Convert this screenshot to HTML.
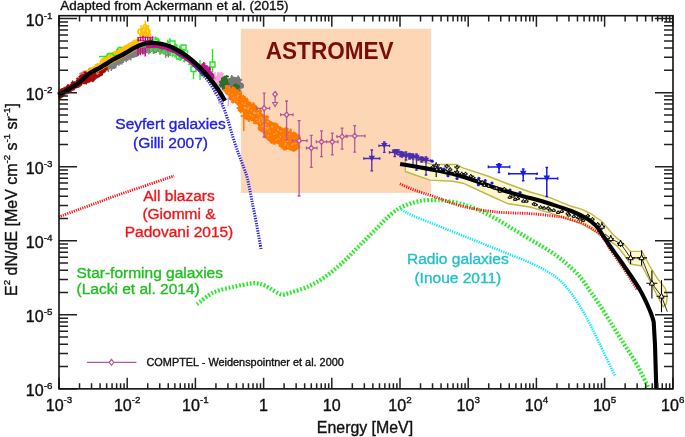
<!DOCTYPE html>
<html><head><meta charset="utf-8"><style>
html,body{margin:0;padding:0;background:#fff;}
svg{display:block;will-change:transform;}
text{font-family:"Liberation Sans",sans-serif;stroke-width:0.35px;}
.t{font-size:16.1px;fill:#111;stroke:#111;}
.s{font-size:9.8px;}
.c{fill:#111;stroke:#111;}
.lbl{font-size:15.5px;}
</style></head><body>
<svg width="685" height="437" viewBox="0 0 685 437">
<defs><clipPath id="cp"><rect x="59.0" y="15.7" width="614.0" height="373.15000000000003"/></clipPath></defs>
<rect x="240.8" y="28.8" width="190.3" height="164.1" fill="#fdd7b5"/>
<path d="M100.0 71.4L102.0 70.2L104.0 69.0L106.0 67.8L108.0 66.5L110.0 65.3L112.0 64.0L114.0 63.0L116.0 61.9L118.0 60.8L120.0 59.8L122.0 58.7L124.0 57.6L126.0 56.5L128.0 55.4L130.0 54.3L132.0 53.1L134.0 52.0L136.0 50.9L138.0 50.1L140.0 49.3L142.0 48.6L144.0 47.8L146.0 47.0L148.0 47.0L150.0 47.0L152.0 46.9L154.0 46.9L156.0 46.9L158.0 47.3L160.0 47.7L162.0 48.0L164.0 48.4L166.0 48.8L168.0 49.7L170.0 50.5" stroke="#85857c" stroke-width="3.2" fill="none"/>
<path d="M100.6 70.2L99.2 76.2M102.1 68.4L100.7 76.1M103.6 67.8L102.2 75.3M105.1 68.2L103.7 73.3M106.6 67.4L105.2 72.3M108.1 66.4L106.7 70.9M109.6 64.4L108.2 72.0M111.1 64.3L109.7 69.3M112.6 61.9L111.2 70.9M114.1 61.3L112.7 69.1M115.6 59.4L114.2 68.9M117.1 58.9L115.7 68.2M118.6 60.1L117.2 65.1M120.1 58.9L118.7 65.9M121.6 58.4L120.2 64.3M123.1 56.3L121.7 64.5M124.6 55.8L123.2 62.9M126.1 56.3L124.7 61.0M127.6 53.7L126.2 62.2M129.1 53.9L127.7 60.6M130.6 52.7L129.2 59.7M132.1 50.9L130.7 60.4M133.6 51.6L132.2 57.8M135.1 50.0L133.7 58.2M136.6 48.6L135.2 57.1M138.1 47.3L136.7 56.9M139.6 48.3L138.2 55.7M141.1 48.4L139.7 54.0M142.6 48.2L141.2 53.4M144.1 45.5L142.7 54.7M145.6 44.6L144.2 54.0M147.1 44.7L145.7 53.5M148.6 45.1L147.2 53.0M150.1 44.3L148.7 54.4M151.6 45.3L150.2 53.0M153.1 46.5L151.7 51.9M154.6 44.8L153.2 53.9M156.1 44.3L154.7 53.3M157.6 45.7L156.2 52.9M159.1 47.0L157.7 51.8M160.6 46.9L159.2 52.0M162.1 47.5L160.7 53.0M163.6 47.6L162.2 52.7M165.1 47.1L163.7 54.6M166.6 48.3L165.2 53.4M168.1 47.6L166.7 56.0M169.6 47.5L168.2 57.4M171.1 49.7L169.7 55.8" stroke="#80807a" stroke-width="1.5" fill="none"/>
<path d="M165.6 50V58M160 49V55" stroke="#888" stroke-width="1.4"/>
<path d="M59.0 95.2L61.0 93.9L63.0 92.6L65.0 91.4L67.0 90.2L69.0 89.0L71.0 87.8L73.0 86.6L75.0 85.4L77.0 84.0L79.0 82.5L81.0 80.9L83.0 79.2L85.0 77.4L87.0 75.6L89.0 73.9L91.0 72.4L93.0 71.3L95.0 70.2L97.0 69.2L99.0 68.1" stroke="#a00808" stroke-width="7" stroke-opacity="0.7" fill="none"/>
<path d="M79 73.5L84 70.5L88 70.5L87 76L81 78Z" fill="#a80808" fill-opacity="0.55"/>
<path d="M86 76L92 72L100 69L106 67.5L104 73L98 78L92 82L88 81Z" fill="#a80808" fill-opacity="0.5"/>
<path d="M66.0 92.2H69.9M68.0 91.2V93.2M62.3 89.7H64.5M63.4 88.4V91.1M72.9 83.8H74.5M73.7 82.5V85.1M66.3 89.5H70.2M68.2 87.9V91.1M70.3 87.7H73.5M71.9 86.8V88.6M79.6 82.2H83.3M81.5 80.5V84.0M67.9 87.8H69.7M68.8 86.2V89.4M59.5 90.2H61.6M60.6 89.2V91.2M66.7 85.8H68.3M67.5 84.8V86.8M60.7 92.0H62.4M61.5 90.1V93.8M73.2 82.5H75.5M74.4 81.3V83.7M66.3 86.0H69.9M68.1 84.0V88.0M69.7 87.4H71.6M70.6 86.5V88.3M65.8 87.5H69.4M67.6 86.5V88.5M58.1 97.9H61.0M59.6 96.9V98.9M71.1 82.6H74.0M72.6 80.6V84.5M79.5 82.4H81.7M80.6 81.1V83.6M61.7 94.2H64.6M63.2 92.5V95.9M65.5 87.3H69.0M67.2 85.4V89.3M78.5 83.5H82.1M80.3 81.8V85.2M63.4 91.2H65.9M64.7 90.4V92.1M58.6 92.5H60.8M59.7 90.8V94.1M81.0 78.3H84.8M82.9 76.3V80.3M81.8 77.7H83.9M82.9 76.6V78.8M62.4 89.2H65.5M63.9 87.3V91.1M78.4 81.1H81.6M80.0 79.4V82.9M59.2 94.6H63.0M61.1 92.9V96.4M76.7 82.8H78.8M77.8 81.1V84.6M65.3 91.9H69.3M67.3 90.6V93.2M67.4 92.1H70.7M69.0 91.0V93.1M60.3 89.9H64.1M62.2 88.1V91.6M60.7 95.0H64.6M62.7 93.4V96.6M66.8 89.6H68.7M67.8 88.8V90.5M81.8 79.6H84.7M83.3 77.7V81.5M68.1 91.0H71.6M69.8 89.9V92.0M64.2 89.1H66.4M65.3 87.6V90.6M64.5 90.0H66.4M65.5 88.1V91.9M66.3 88.9H69.3M67.8 87.0V90.7M68.1 91.5H70.9M69.5 90.1V93.0M70.8 82.8H73.4M72.1 81.8V83.8M58.1 97.0H60.1M59.1 95.6V98.4M75.9 83.9H78.3M77.1 82.5V85.3M72.0 88.4H73.8M72.9 87.0V89.9M63.5 89.0H66.9M65.2 87.6V90.4M71.1 88.2H74.9M73.0 86.8V89.5M72.9 85.4H75.7M74.3 83.7V87.0M68.9 88.0H71.7M70.3 86.1V89.9M74.5 87.0H78.4M76.5 85.8V88.1M71.2 89.7H74.8M73.0 88.7V90.6M61.2 92.3H62.9M62.0 91.2V93.4M59.1 94.9H62.6M60.8 93.0V96.8M61.3 94.0H64.5M62.9 93.0V94.9M80.0 84.1H82.1M81.1 82.2V86.0M67.0 88.4H70.9M69.0 86.6V90.2M61.6 91.6H64.5M63.0 90.4V92.8M62.2 90.1H65.6M63.9 89.3V90.9M72.0 85.7H73.7M72.9 84.5V86.9M73.7 85.2H75.5M74.6 83.3V87.2M77.8 86.0H79.6M78.7 84.9V87.2M58.9 96.3H61.1M60.0 95.3V97.2M67.8 91.5H71.3M69.6 90.3V92.6M61.2 95.7H64.2M62.7 94.0V97.3M59.6 89.7H62.9M61.2 88.4V91.0M59.2 97.0H62.4M60.8 95.3V98.8M60.2 96.2H62.0M61.1 94.4V98.0M68.9 86.4H71.8M70.3 84.5V88.3M64.3 87.5H67.1M65.7 86.4V88.6M60.9 90.2H62.6M61.7 89.2V91.3M65.1 88.3H68.5M66.8 87.1V89.4M70.3 84.4H72.7M71.5 83.6V85.2" stroke="#a80808" stroke-width="1.3" fill="none"/>
<path d="M78.4 76.7H82.1M80.3 75.1V78.4M77.3 81.5H81.6M79.5 80.3V82.6M86.1 74.0H89.2M87.6 72.0V76.0M80.3 79.5H83.9M82.1 77.3V81.7M79.6 83.0H83.3M81.5 81.2V84.8M81.2 77.9H83.3M82.3 76.8V79.1M76.6 85.0H79.2M77.9 83.8V86.2M76.1 85.8H80.1M78.1 84.0V87.6M79.3 78.4H82.0M80.7 76.8V79.9M77.7 81.5H80.4M79.0 79.4V83.7M88.4 73.2H90.9M89.6 71.1V75.4M80.0 79.1H82.0M81.0 77.7V80.6M81.9 78.5H84.4M83.2 76.9V80.1M76.0 81.4H78.2M77.1 79.9V82.9M76.2 78.8H78.9M77.5 77.6V80.1M82.7 77.5H86.5M84.6 75.7V79.3M84.8 79.2H87.8M86.3 77.8V80.6M87.9 69.5H91.7M89.8 67.7V71.3M75.5 86.1H79.6M77.6 84.4V87.9M85.4 78.4H87.7M86.5 76.7V80.0M81.6 81.2H85.5M83.6 79.2V83.2M82.8 80.8H86.4M84.6 79.0V82.6M78.8 77.1H81.1M80.0 75.7V78.5M76.7 85.5H80.0M78.4 83.8V87.3M83.6 78.4H86.7M85.1 77.4V79.4M85.8 77.0H89.0M87.4 75.4V78.7M83.7 72.5H87.5M85.6 71.2V73.8M76.1 80.7H79.8M78.0 79.5V82.0M85.0 79.8H88.2M86.6 78.3V81.2M81.3 80.1H85.1M83.2 78.4V81.9M84.2 72.8H86.5M85.4 71.5V74.1M85.0 73.7H88.3M86.7 72.7V74.7M76.0 80.9H79.6M77.8 79.0V82.7M84.2 74.3H87.4M85.8 72.8V75.9M81.0 75.2H85.1M83.1 73.9V76.4M88.7 76.7H90.7M89.7 75.1V78.2M86.1 78.8H89.2M87.7 77.5V80.1M78.5 85.5H81.0M79.7 83.8V87.2M76.7 82.4H81.0M78.8 81.2V83.5M85.6 74.6H89.7M87.7 72.8V76.5" stroke="#a80808" stroke-width="1.5" fill="none"/>
<path d="M87.7 80.9H90.9M89.3 79.8V81.9M82.5 81.4H85.6M84.1 80.1V82.8M85.9 78.0H88.6M87.2 76.0V80.0M82.0 83.1H86.0M84.0 82.0V84.3M103.2 68.8H107.4M105.3 67.4V70.1M90.4 75.1H94.8M92.6 73.4V76.8M91.0 75.6H93.6M92.3 74.5V76.6M85.0 82.2H87.7M86.3 80.1V84.4M88.1 75.4H91.3M89.7 74.2V76.6M90.5 80.2H94.6M92.6 78.3V82.2M96.4 75.8H100.6M98.5 74.2V77.5M98.7 67.6H102.4M100.6 66.1V69.2M100.0 71.5H102.7M101.3 70.5V72.6M103.7 65.2H106.9M105.3 63.8V66.6M88.7 78.8H93.0M90.8 77.5V80.2M97.4 70.5H100.8M99.1 69.0V71.9M86.6 76.1H89.1M87.8 74.0V78.2M93.3 72.0H97.5M95.4 69.8V74.2M93.1 71.9H95.6M94.3 70.8V73.0M90.6 72.8H93.2M91.9 71.5V74.1M95.2 76.7H99.0M97.1 75.2V78.2M92.1 75.9H95.0M93.5 74.5V77.3M83.3 78.9H87.6M85.4 77.8V80.1M93.5 75.6H97.6M95.6 74.3V76.8M88.8 74.9H91.7M90.2 73.4V76.5M103.9 69.1H108.0M105.9 68.0V70.1M82.7 82.4H86.8M84.7 80.8V84.0M96.0 68.9H99.0M97.5 66.8V71.0M100.8 71.6H105.2M103.0 70.3V72.9M84.9 77.2H88.1M86.5 75.4V79.0M103.9 68.5H107.4M105.7 66.6V70.5M93.5 75.6H95.6M94.5 73.7V77.6M87.6 81.0H91.1M89.3 79.7V82.4M85.2 77.5H88.7M86.9 75.7V79.4M84.9 76.5H88.2M86.6 74.8V78.2M91.2 73.4H94.6M92.9 72.4V74.4M88.8 76.4H93.1M90.9 74.7V78.2M103.0 68.0H105.6M104.3 66.8V69.3M104.7 68.1H107.5M106.1 67.1V69.1M94.0 76.1H97.0M95.5 74.8V77.4M98.1 75.2H100.6M99.3 74.2V76.3M90.0 75.7H93.6M91.8 74.5V77.0M100.7 71.4H103.9M102.3 70.1V72.6M104.3 65.6H108.3M106.3 64.3V66.9M87.7 79.9H90.4M89.1 77.8V82.0M94.1 71.7H96.7M95.4 70.2V73.2M98.1 75.5H100.5M99.3 74.0V76.9M87.7 81.7H90.1M88.9 80.7V82.8M83.3 79.8H87.5M85.4 77.7V81.8M98.7 74.5H103.0M100.9 73.1V75.9M86.4 81.8H90.2M88.3 80.8V82.8M97.8 71.0H100.7M99.3 69.6V72.4M86.6 74.9H89.2M87.9 73.5V76.3M103.8 64.7H108.1M106.0 63.5V66.0M90.2 79.1H94.2M92.2 77.6V80.6M83.7 80.5H86.6M85.1 78.4V82.6M86.4 77.2H90.5M88.4 76.2V78.3M91.5 78.6H95.4M93.4 77.6V79.7M82.7 78.0H86.9M84.8 76.7V79.3M99.8 73.5H102.6M101.2 72.2V74.8M104.7 67.6H107.3M106.0 65.8V69.5M90.3 74.7H92.3M91.3 72.8V76.6M102.9 68.5H107.2M105.1 67.4V69.5M87.2 77.4H91.5M89.4 75.3V79.5M91.4 73.7H94.4M92.9 72.1V75.3M103.4 65.5H107.3M105.3 63.6V67.4M101.2 71.1H104.7M102.9 69.7V72.5M89.4 75.4H93.3M91.3 74.3V76.5M87.2 80.2H89.8M88.5 79.1V81.3M83.4 81.3H86.2M84.8 79.1V83.5M103.0 71.3H105.6M104.3 70.2V72.4M84.4 79.9H88.1M86.2 78.4V81.4M87.6 76.9H91.1M89.4 75.1V78.7M99.4 73.1H103.0M101.2 71.9V74.2M101.7 67.6H105.0M103.3 66.1V69.0M99.7 68.5H102.3M101.0 67.2V69.8M85.8 81.9H89.2M87.5 80.5V83.3M91.5 80.4H94.7M93.1 79.1V81.7M100.4 70.6H104.8M102.6 69.4V71.7M92.9 77.8H96.9M94.9 75.7V79.9" stroke="#a80808" stroke-width="1.5" fill="none"/>
<path d="M87.0 72.2L88.0 71.4L89.0 70.5L90.0 69.6L91.0 69.0L92.0 68.5L93.0 67.9L94.0 67.4L95.0 66.8L96.0 66.3L97.0 65.8L98.0 65.2L99.0 64.7L100.0 64.2L101.0 63.6L102.0 63.0L103.0 62.4L104.0 61.8L105.0 61.2" stroke="#ffc200" stroke-width="2.6" fill="none"/>
<path d="M103.0 60.8L105.0 59.6L107.0 58.4L109.0 57.1L111.0 55.8L113.0 54.7L115.0 53.6L117.0 52.6L119.0 51.5L121.0 50.5L123.0 49.4L125.0 48.2L127.0 47.1L129.0 46.0L131.0 44.9L133.0 43.8L135.0 42.7L137.0 41.7" stroke="#ffc200" stroke-width="5.2" fill="none" stroke-linecap="round"/>
<path d="M96.2 64.1H99.3M97.8 63.1V65.2M107.5 55.5H110.3M108.9 53.9V57.0M100.2 61.8H102.3M101.2 60.6V62.9M102.9 60.1H105.8M104.3 58.8V61.4M136.9 39.9H140.8M138.8 38.6V41.2M120.3 49.8H123.0M121.7 48.4V51.2M134.9 42.3H138.9M136.9 41.0V43.7M110.7 53.6H114.1M112.4 52.4V54.8M132.2 41.2H136.0M134.1 39.8V42.6M114.4 53.7H117.2M115.8 51.8V55.6M106.3 57.5H108.6M107.4 56.5V58.5M128.6 45.0H131.9M130.2 43.1V46.9M136.0 39.7H139.2M137.6 38.4V41.1M99.5 61.7H101.8M100.7 60.4V63.0M120.3 49.3H124.2M122.2 48.2V50.4M121.5 48.7H125.1M123.3 46.7V50.6M104.4 57.8H106.7M105.6 55.9V59.8M110.7 56.0H113.7M112.2 55.0V57.1M100.8 62.0H103.6M102.2 60.1V64.0M103.2 59.5H106.8M105.0 58.3V60.6M106.0 58.6H108.4M107.2 57.2V60.0M120.5 50.2H124.2M122.4 49.1V51.4M123.3 47.1H126.1M124.7 45.6V48.6M103.8 58.8H106.1M105.0 57.5V60.0M94.6 64.6H98.4M96.5 63.6V65.6M108.6 55.9H112.2M110.4 54.9V56.9M124.7 48.3H127.0M125.8 46.7V49.9M102.5 59.8H105.8M104.1 58.5V61.1M108.2 55.9H111.3M109.7 54.5V57.3M103.5 59.6H106.4M104.9 58.2V61.0" stroke="#ffc200" stroke-width="1.4" fill="none"/>
<path d="M96.0 72.6L98.0 71.5L100.0 70.5L102.0 69.3L104.0 68.1L106.0 66.9L108.0 65.6L110.0 64.4L112.0 63.1L114.0 62.1L116.0 61.0L118.0 59.9L120.0 58.9L122.0 57.8L124.0 56.7L126.0 55.6L128.0 54.5L130.0 53.4L132.0 52.2L134.0 51.1L136.0 50.0L138.0 49.2L140.0 48.4" stroke="#e0a818" stroke-width="1" fill="none"/>
<circle cx="140.5" cy="31.5" r="2.4" fill="none" stroke="#ffc200" stroke-width="1.8"/><circle cx="144" cy="30.5" r="2.6" fill="none" stroke="#ffc200" stroke-width="1.8"/><circle cx="147.5" cy="31.5" r="2.4" fill="none" stroke="#ffc200" stroke-width="1.8"/><circle cx="145.2" cy="26.8" r="2.0" fill="none" stroke="#ffc200" stroke-width="1.8"/><circle cx="142" cy="35" r="2.0" fill="none" stroke="#ffc200" stroke-width="1.8"/><circle cx="148.5" cy="35" r="1.8" fill="none" stroke="#ffc200" stroke-width="1.8"/><circle cx="144.8" cy="34.5" r="2.0" fill="none" stroke="#ffc200" stroke-width="1.8"/>
<path d="M145.3 20.5V37M141 25V37M148.5 25V37" stroke="#ffc200" stroke-width="1.4"/>
<path d="M99 56.5H106L108 53.5H112L114 55.5H118M116.5 50.5L118.5 47.5H122M170.0 41.0h5v5h-5zM181.0 45.0h5v5h-5zM191.0 66.5h5v5h-5zM210.0 62.0h5v5h-5zM200.5 70.5h5v5h-5zM176.5 54.0h5v5h-5zM159.5 48.0h5v5h-5zM212.5 49V62M212.5 67V72M193.5 60V66.5M193.5 71.5V79M200 60V80M170 38V56M158 47h8M176 53h7" stroke="#22e822" stroke-width="1.4" fill="none"/>
<path d="M149.9 39.2H152.0M150.9 37.6V40.7M179.9 56.5H182.5M181.2 55.6V57.4M153.9 46.6H156.4M155.1 45.3V47.9M150.1 40.0H153.2M151.6 38.4V41.6M169.3 52.4H171.6M170.5 50.7V54.2M153.9 38.1H157.0M155.4 36.5V39.7M156.0 39.4H159.5M157.7 37.7V41.2M155.7 38.4H157.5M156.6 37.2V39.5M179.2 59.5H181.3M180.2 57.9V61.1M154.7 50.7H156.8M155.7 49.6V51.8M169.3 50.0H171.2M170.2 49.0V51.0M186.5 51.9H188.4M187.5 50.3V53.4M153.4 49.3H155.8M154.6 47.6V51.0M171.3 55.1H173.1M172.2 53.3V56.9M174.1 55.9H176.3M175.2 54.2V57.7M171.9 54.9H174.3M173.1 53.9V55.9M178.7 58.8H180.8M179.7 57.4V60.2M188.2 64.5H190.5M189.4 63.7V65.3M150.1 49.2H152.6M151.4 47.9V50.5M184.4 59.7H187.3M185.8 58.9V60.6M148.9 46.7H151.3M150.1 45.7V47.7M171.9 52.2H174.8M173.3 50.9V53.5M154.4 39.6H156.3M155.4 38.7V40.5M174.3 44.5H176.7M175.5 43.5V45.6M149.3 39.0H151.6M150.5 37.6V40.5M166.7 41.3H168.8M167.8 39.6V43.0M150.7 48.2H152.8M151.8 47.3V49.0M179.4 58.4H182.9M181.2 57.4V59.3M156.5 39.5H159.4M158.0 37.8V41.1M156.1 47.8H157.8M157.0 46.1V49.5M179.7 49.7H183.0M181.3 48.2V51.2M167.6 42.2H169.6M168.6 41.3V43.1M157.7 48.4H160.8M159.3 46.9V49.9M182.5 50.8H185.2M183.8 49.5V52.0M180.1 57.2H183.0M181.5 55.4V58.9M157.6 40.6H159.7M158.7 39.5V41.6M178.6 47.2H180.9M179.8 45.5V48.9M161.7 52.0H164.6M163.1 50.5V53.5M175.0 45.8H178.2M176.6 44.3V47.2M182.9 61.2H185.7M184.3 60.1V62.4M156.8 40.4H160.2M158.5 39.5V41.4M149.9 50.8H152.2M151.1 49.9V51.7M149.7 49.6H152.6M151.1 48.1V51.1M178.3 57.5H180.6M179.5 55.9V59.1M181.1 50.5H184.5M182.8 48.8V52.2M186.9 60.9H188.7M187.8 60.0V61.7M182.3 50.1H185.5M183.9 48.7V51.5M159.9 47.6H163.1M161.5 46.6V48.6M161.7 47.5H163.8M162.8 46.4V48.6M176.9 55.6H180.4M178.6 54.3V56.9" stroke="#28ec28" stroke-width="1.3" fill="none"/>
<path d="M138.2 37.0V41.5M140.6 36.7V41.5M143 35.8V41.5M145.4 36.4V41.5M147.8 36.4V41.5M150.2 36.9V40.8M152.6 36.3V40.8M138 48V55.8M140.4 48V55.2M142.8 48V53.9M145.2 48V56.4" stroke="#d00890" stroke-width="1.5" fill="none"/>
<path d="M137.5 37.5h16M137.5 40.5h15" stroke="#d00890" stroke-width="0.8" fill="none"/>
<path d="M146.0 46.6L148.0 46.6L150.0 46.6L152.0 46.5L154.0 46.5L156.0 46.5L158.0 46.9L160.0 47.3L162.0 47.6L164.0 48.0L166.0 48.4L168.0 49.3L170.0 50.1L172.0 51.0L174.0 51.8L176.0 52.7L178.0 54.0L180.0 55.3L182.0 56.5L184.0 57.8L186.0 59.1L188.0 60.4L190.0 62.1L192.0 63.9L194.0 65.6L196.0 67.4L198.0 69.1L200.0 71.1L202.0 73.3L204.0 75.4" stroke="#c0148e" stroke-width="3" fill="none"/>
<path d="M203.0 64.0L208.0 68.0L214.0 74.0L216.0 78.0L212.0 79.0L206.0 74.0L201.0 67.0Z" fill="#c0148e"/><path d="M204.0 66.2H208.2M206.1 64.9V67.6M202.9 70.1H205.4M204.2 68.2V72.0M206.9 68.1H210.5M208.7 67.0V69.2M201.5 64.4H205.5M203.5 62.5V66.2M207.9 69.5H211.0M209.5 67.4V71.7M203.2 73.1H205.3M204.3 71.8V74.4M200.4 65.4H203.7M202.1 64.0V66.9M202.2 63.7H205.4M203.8 62.0V65.4M212.6 78.9H216.3M214.5 77.4V80.3M211.7 77.9H215.9M213.8 76.1V79.8M202.9 70.7H206.0M204.4 68.7V72.7M207.7 68.5H210.9M209.3 66.4V70.7" stroke="#c0148e" stroke-width="1.5" fill="none"/>
<path d="M215 72V95M219 74V104M222 80V108M228.3 83.7V105.7M213 80h4M217 88h4M220 95h4M225 99h6" stroke="#f2a6d2" stroke-width="1.4" fill="none"/>
<path d="M217.0 72.0L222.0 73.0L223.0 82.0L219.0 88.0L216.0 84.0Z" fill="#f2a6d2"/><path d="M221.0 77.1H223.4M222.2 75.6V78.5M219.8 76.0H223.7M221.8 74.9V77.1M222.0 78.8H225.0M223.5 76.5V81.1M215.0 83.7H218.1M216.5 82.5V85.0M215.5 77.4H218.0M216.7 75.8V78.9M219.3 73.7H223.4M221.3 71.8V75.6M220.5 74.1H223.7M222.1 72.9V75.3M220.7 77.2H224.6M222.7 75.1V79.4" stroke="#f2a6d2" stroke-width="1.5" fill="none"/>
<path d="M228.0 78.5L233.0 76.5L238.0 77.5L241.0 82.0L242.0 88.0L239.0 91.0L234.0 90.0L230.0 86.0L228.0 83.0Z" fill="#777777"/><path d="M240.5 84.9H244.0M242.3 83.0V86.9M236.9 90.7H241.2M239.1 89.7V91.8M230.4 87.7H234.3M232.3 85.6V89.9M239.8 84.4H243.2M241.5 82.8V86.1M236.4 77.5H239.9M238.2 75.5V79.5M231.0 89.0H235.3M233.2 87.7V90.2M226.9 83.6H230.7M228.8 82.4V84.7M231.2 87.2H233.3M232.2 85.9V88.6M232.2 89.1H235.2M233.7 87.5V90.6M228.2 84.6H230.8M229.5 83.3V85.8M233.4 90.8H236.7M235.1 89.6V92.1M235.6 90.3H238.1M236.8 89.1V91.5M240.4 87.0H244.0M242.2 85.4V88.6M238.0 80.1H242.3M240.1 78.7V81.5M235.2 91.1H239.1M237.2 89.5V92.7M230.6 76.9H232.9M231.8 74.9V78.9M239.9 85.5H242.6M241.3 84.1V87.0M229.6 87.1H232.0M230.8 86.1V88.1M232.5 89.1H235.1M233.8 87.7V90.4M235.1 90.5H238.6M236.8 88.7V92.3M236.2 78.8H240.2M238.2 77.8V79.9M240.1 85.8H244.0M242.1 84.6V87.0M241.3 86.8H243.3M242.3 85.8V87.8M236.7 90.9H239.3M238.0 89.8V92.0M238.9 84.1H242.8M240.8 82.7V85.5M232.4 90.8H236.3M234.3 89.6V92.0" stroke="#777777" stroke-width="1.5" fill="none"/>
<path d="M221.0 78.0L225.0 75.5L228.0 79.0L228.0 86.0L224.0 88.5L221.0 85.0Z" fill="#2d6e2d"/><path d="M220.3 81.6H223.0M221.6 80.3V82.9M223.3 87.9H225.5M224.4 86.3V89.5M218.9 85.1H222.2M220.5 83.4V86.8M222.0 87.1H226.2M224.1 85.5V88.7M219.0 81.7H223.2M221.1 80.2V83.2M219.8 85.7H222.0M220.9 83.8V87.5M219.4 82.5H223.0M221.2 80.6V84.4M224.5 76.5H229.1M226.8 74.9V78.2M221.9 87.9H224.0M222.9 86.0V89.9M225.2 86.3H229.5M227.3 84.8V87.8M219.9 86.1H223.9M221.9 84.9V87.4M226.2 83.9H229.6M227.9 81.8V85.9" stroke="#2d6e2d" stroke-width="1.5" fill="none"/>
<path d="M233.5 84.0L237.0 83.5L237.5 90.0L234.0 90.5Z" fill="#2d6e2d"/><path d="M235.9 86.1H240.0M237.9 84.7V87.5M231.7 87.1H235.2M233.5 85.3V89.0M235.9 87.3H239.7M237.8 85.2V89.5M236.1 89.3H238.9M237.5 88.3V90.3M234.9 86.1H238.4M236.7 84.2V88.0M236.0 90.7H239.6M237.8 88.9V92.5" stroke="#2d6e2d" stroke-width="1.5" fill="none"/>
<path d="M225.0 86.5L230.0 87.5L238.0 90.8L246.0 100.5L254.0 105.8L261.0 112.0L268.0 119.2L276.0 124.0L284.0 128.4L292.0 132.5L298.5 136.0L298.5 149.0L294.0 152.0L284.0 147.8L276.0 143.2L268.0 138.5L261.0 129.0L254.0 120.8L246.0 117.4L238.0 106.0L232.0 100.0L227.0 94.0L225.0 90.0Z" fill="#ff7800"/><path d="M272.5 142.3H276.9M274.7 139.9V144.8M263.0 133.4H266.2M264.6 132.1V134.6M278.8 146.0H283.3M281.1 144.4V147.6M263.9 136.6H268.5M266.2 134.6V138.6M257.4 111.1H262.1M259.8 109.4V112.8M265.7 138.3H270.4M268.1 136.1V140.6M296.6 140.0H299.7M298.2 138.3V141.8M253.3 123.1H258.0M255.7 121.8V124.3M240.8 96.9H245.5M243.2 95.0V98.8M252.6 107.5H257.1M254.9 105.4V109.6M231.7 88.2H234.3M233.0 86.3V90.2M252.2 120.3H256.5M254.4 117.9V122.7M230.9 101.6H235.1M233.0 99.8V103.4M267.0 139.1H271.4M269.2 136.9V141.3M284.1 129.0H288.6M286.4 126.8V131.2M242.4 116.4H247.1M244.8 114.0V118.7M249.7 119.7H253.6M251.6 118.3V121.2M284.0 148.4H288.2M286.1 146.7V150.1M265.0 117.7H268.7M266.8 116.4V119.1M271.9 123.8H275.2M273.5 122.4V125.1M295.0 135.2H297.8M296.4 133.2V137.2M275.8 124.7H278.2M277.0 123.5V125.9M296.7 136.2H300.4M298.5 134.3V138.1M270.0 141.4H273.5M271.8 139.0V143.8M228.7 98.9H233.6M231.1 97.4V100.5M233.6 89.4H236.5M235.0 88.1V90.7M282.5 148.6H287.2M284.9 146.8V150.4M232.3 89.3H234.8M233.6 87.3V91.3M242.3 98.6H247.2M244.8 97.1V100.1M244.7 118.1H249.6M247.2 116.0V120.1M282.5 147.8H285.3M283.9 145.3V150.2M232.3 100.3H234.8M233.6 98.8V101.9M295.9 139.1H300.6M298.3 136.8V141.4M225.0 87.5H229.3M227.1 85.5V89.6M289.2 130.7H292.0M290.6 128.5V132.8M280.2 146.4H283.4M281.8 144.4V148.4M229.0 97.2H232.2M230.6 95.6V98.7M223.2 90.4H226.0M224.6 88.9V91.9M296.7 144.7H299.1M297.9 142.6V146.9M291.5 133.1H296.3M293.9 131.6V134.6M241.1 97.1H245.8M243.4 95.7V98.5M269.2 140.0H274.0M271.6 137.7V142.3M258.6 111.1H261.9M260.3 108.8V113.4M248.9 103.5H251.6M250.3 102.1V105.0M225.5 87.5H229.4M227.4 86.1V88.9M224.8 86.3H228.3M226.6 84.9V87.7M263.7 135.9H267.0M265.3 134.5V137.3M242.9 99.4H247.7M245.3 98.0V100.7M225.0 92.4H229.7M227.3 90.3V94.5M238.8 94.3H242.0M240.4 92.7V95.8M236.6 108.1H241.6M239.1 105.6V110.6M245.5 100.1H248.6M247.0 97.7V102.5M226.3 87.6H229.5M227.9 85.1V90.1M258.9 129.9H262.2M260.5 128.5V131.3M261.8 116.1H265.6M263.7 114.7V117.5M257.8 127.8H260.8M259.3 125.9V129.8M253.4 107.2H257.8M255.6 105.1V109.4M233.1 88.8H235.7M234.4 86.9V90.8M252.5 120.4H255.4M254.0 118.4V122.4M260.4 130.9H264.3M262.4 129.4V132.4M238.8 111.0H242.3M240.6 108.9V113.2M257.6 128.3H260.9M259.2 126.0V130.6M239.7 93.7H242.2M241.0 91.3V96.0M272.9 142.9H276.0M274.5 141.5V144.4M261.7 130.9H264.5M263.1 129.2V132.6M296.8 140.6H300.5M298.7 138.8V142.4M228.8 98.0H233.0M230.9 95.8V100.3M264.6 117.0H268.9M266.8 115.3V118.7M224.8 92.8H229.5M227.1 90.3V95.2M259.7 129.8H263.5M261.6 127.9V131.7M225.1 87.7H228.0M226.6 86.3V89.1M225.1 86.7H229.6M227.4 85.5V87.9M268.5 140.3H271.4M269.9 139.1V141.5M244.1 117.3H247.9M246.0 115.2V119.4M237.0 93.5H241.3M239.1 92.3V94.8M273.4 123.9H277.1M275.3 122.4V125.5M258.0 127.7H260.8M259.4 125.7V129.6M251.4 104.4H255.3M253.3 102.2V106.6M237.7 110.3H242.5M240.1 108.6V112.0M296.5 147.2H300.3M298.4 145.5V149.0M235.8 90.7H239.1M237.5 89.2V92.2M283.4 129.4H288.4M285.9 127.2V131.7M282.5 148.4H287.1M284.8 147.1V149.6M296.1 137.6H300.9M298.5 136.0V139.1M264.7 136.7H268.1M266.4 134.8V138.6M246.6 102.4H250.3M248.4 101.2V103.7M246.7 119.6H251.2M248.9 117.2V122.1M283.2 129.6H287.9M285.6 127.3V132.0M269.3 140.8H272.4M270.9 138.8V142.9M271.5 142.3H276.4M274.0 140.3V144.3" stroke="#ff7800" stroke-width="1.8" fill="none"/>
<path d="M244.8 107.6h1.3v1.3h-1.3zM257.1 121.3h1.3v1.3h-1.3zM247.3 107.4h1.3v1.3h-1.3zM271.4 125.4h1.3v1.3h-1.3zM267.8 135.1h1.3v1.3h-1.3zM262.4 119.3h1.3v1.3h-1.3zM259.2 119.1h1.3v1.3h-1.3zM237.9 94.5h1.3v1.3h-1.3zM236.8 95.6h1.3v1.3h-1.3zM255.2 112.4h1.3v1.3h-1.3zM244.3 102.0h1.3v1.3h-1.3zM264.6 129.3h1.3v1.3h-1.3zM268.9 130.4h1.3v1.3h-1.3zM271.6 126.7h1.3v1.3h-1.3zM275.6 132.8h1.3v1.3h-1.3zM264.7 126.4h1.3v1.3h-1.3zM259.4 116.7h1.3v1.3h-1.3zM244.2 103.4h1.3v1.3h-1.3zM262.3 120.6h1.3v1.3h-1.3zM267.2 121.1h1.3v1.3h-1.3zM251.6 115.8h1.3v1.3h-1.3zM244.0 106.9h1.3v1.3h-1.3zM260.9 117.8h1.3v1.3h-1.3zM294.2 140.1h1.3v1.3h-1.3zM279.7 130.8h1.3v1.3h-1.3zM232.5 97.1h1.3v1.3h-1.3zM257.5 112.1h1.3v1.3h-1.3zM254.0 112.7h1.3v1.3h-1.3zM277.3 128.8h1.3v1.3h-1.3zM243.1 110.3h1.3v1.3h-1.3zM277.5 129.5h1.3v1.3h-1.3zM250.6 109.8h1.3v1.3h-1.3zM273.2 133.6h1.3v1.3h-1.3zM284.9 143.1h1.3v1.3h-1.3zM262.7 125.5h1.3v1.3h-1.3zM277.8 138.3h1.3v1.3h-1.3zM259.8 122.6h1.3v1.3h-1.3zM275.5 139.2h1.3v1.3h-1.3zM236.5 100.8h1.3v1.3h-1.3zM228.3 92.3h1.3v1.3h-1.3zM267.3 127.9h1.3v1.3h-1.3zM292.5 143.1h1.3v1.3h-1.3zM256.0 118.4h1.3v1.3h-1.3zM286.5 140.8h1.3v1.3h-1.3zM253.4 112.5h1.3v1.3h-1.3zM258.7 120.6h1.3v1.3h-1.3zM247.6 108.6h1.3v1.3h-1.3zM265.2 124.0h1.3v1.3h-1.3zM249.6 114.1h1.3v1.3h-1.3zM284.9 138.5h1.3v1.3h-1.3zM257.8 113.7h1.3v1.3h-1.3zM248.4 106.2h1.3v1.3h-1.3zM266.6 128.3h1.3v1.3h-1.3zM233.9 98.8h1.3v1.3h-1.3zM249.7 114.7h1.3v1.3h-1.3zM284.2 144.8h1.3v1.3h-1.3zM241.7 102.5h1.3v1.3h-1.3zM289.0 133.6h1.3v1.3h-1.3zM231.2 93.9h1.3v1.3h-1.3zM261.3 126.0h1.3v1.3h-1.3zM279.8 136.3h1.3v1.3h-1.3zM294.9 142.9h1.3v1.3h-1.3zM262.7 124.8h1.3v1.3h-1.3zM254.1 112.0h1.3v1.3h-1.3zM267.8 126.5h1.3v1.3h-1.3zM291.5 144.0h1.3v1.3h-1.3zM263.2 118.0h1.3v1.3h-1.3zM253.1 111.8h1.3v1.3h-1.3zM265.6 127.0h1.3v1.3h-1.3zM286.9 146.0h1.3v1.3h-1.3z" fill="#ffa860"/>
<path d="M243.8 108V131M240.5 116h7" stroke="#ff7800" stroke-width="1.4"/>
<path d="M256.4 108.3H269.6M264.2 93.2V137M256.4 106.8v3M269.6 106.8v3M262.7 93.2h3M262.7 137h3M280.6 114.7H293M286.6 101V139.5M280.6 113.2v3M293 113.2v3M285.1 101h3M285.1 139.5h3M292.3 140.7H307.1M299.1 120.6V196M292.3 139.2v3M307.1 139.2v3M297.6 120.6h3M297.6 196h3M306.5 148H317M311.3 135.4V167.4M306.5 146.5v3M317 146.5v3M309.8 135.4h3M309.8 167.4h3M316.3 141.8H326.6M321.5 130.9V156.7M316.3 140.3v3M326.6 140.3v3M320.0 130.9h3M320.0 156.7h3M326.6 141.8H338M332.3 133.1V154.9M326.6 140.3v3M338 140.3v3M330.8 133.1h3M330.8 154.9h3M336.9 136.6H347.1M342.1 128.1V149.1M336.9 135.1v3M347.1 135.1v3M340.6 128.1h3M340.6 149.1h3M346 135.9H365M354.7 125.6V152.1M346 134.4v3M365 134.4v3M353.2 125.6h3M353.2 152.1h3" stroke="#b4589e" stroke-width="1.3" fill="none"/>
<path d="M275.1 96.8V103" stroke="#b4589e" stroke-width="1.3"/><path d="M272.7 102.5H277.5L275.1 106.5Z" fill="#fdd7b5" stroke="#b4589e" stroke-width="1.2"/>
<path d="M264.2 105.6L266.5 108.3L264.2 111.0L261.9 108.3Z" fill="#fdd7b5" stroke="#b4589e" stroke-width="1.3"/><path d="M286.6 112.0L288.90000000000003 114.7L286.6 117.4L284.3 114.7Z" fill="#fdd7b5" stroke="#b4589e" stroke-width="1.3"/><path d="M299.1 138.0L301.40000000000003 140.7L299.1 143.39999999999998L296.8 140.7Z" fill="#fdd7b5" stroke="#b4589e" stroke-width="1.3"/><path d="M311.3 145.3L313.6 148L311.3 150.7L309.0 148Z" fill="#fdd7b5" stroke="#b4589e" stroke-width="1.3"/><path d="M321.5 139.10000000000002L323.8 141.8L321.5 144.5L319.2 141.8Z" fill="#fdd7b5" stroke="#b4589e" stroke-width="1.3"/><path d="M332.3 139.10000000000002L334.6 141.8L332.3 144.5L330.0 141.8Z" fill="#fdd7b5" stroke="#b4589e" stroke-width="1.3"/><path d="M342.1 133.9L344.40000000000003 136.6L342.1 139.29999999999998L339.8 136.6Z" fill="#fdd7b5" stroke="#b4589e" stroke-width="1.3"/><path d="M354.7 133.20000000000002L357.0 135.9L354.7 138.6L352.4 135.9Z" fill="#fdd7b5" stroke="#b4589e" stroke-width="1.3"/>
<path d="M275.1 91.5L277.4 94.2L275.1 96.9L272.8 94.2Z" fill="#fdd7b5" stroke="#b4589e" stroke-width="1.3"/>
<path d="M172.0 49.0C174.5 50.4 184.0 55.7 187.0 57.5C190.0 59.3 188.2 57.8 190.0 59.8C191.8 61.8 195.3 66.1 198.0 69.2C200.7 72.3 203.9 75.8 206.0 78.4C208.1 81.0 209.2 82.4 210.8 84.8C212.4 87.2 214.1 90.1 215.6 92.6C217.1 95.1 218.5 97.8 219.6 99.8C220.7 101.8 221.1 101.4 222.4 104.5C223.7 107.6 225.6 112.9 227.3 118.3C229.0 123.7 231.0 130.9 232.8 136.7C234.6 142.5 236.5 148.0 238.3 153.2C240.2 158.4 242.4 163.6 243.9 167.9C245.4 172.2 246.2 173.6 247.5 178.9C248.8 184.2 250.3 192.5 251.8 200.0C253.3 207.5 254.9 215.7 256.5 224.0C258.1 232.3 260.4 245.5 261.2 249.8" stroke="#2626f4" stroke-width="3" fill="none" stroke-dasharray="1.3 1.2"/>
<path d="M58.6 217.0C61.8 215.8 71.4 212.1 78.0 209.7C84.6 207.3 92.1 204.6 98.0 202.4C103.9 200.2 106.4 199.1 113.4 196.6C120.4 194.1 129.9 190.9 140.0 187.5C150.1 184.1 168.4 177.8 174.1 175.9" stroke="#ff1418" stroke-width="2.8" fill="none" stroke-dasharray="1.2 1.1"/>
<path d="M197.0 304.2C199.8 302.2 207.4 295.4 213.5 292.5C219.6 289.6 227.6 288.3 233.7 286.8C239.8 285.3 246.1 284.2 250.0 283.6C253.9 283.0 254.6 283.0 257.2 283.4C259.8 283.8 261.7 284.0 265.6 285.8C269.5 287.6 276.5 293.1 280.7 294.2C284.9 295.3 286.2 293.7 290.7 292.5C295.2 291.3 301.9 289.3 307.5 286.8C313.1 284.3 318.7 281.2 324.3 277.4C329.9 273.6 335.5 268.9 341.1 263.9C346.7 258.9 352.3 252.8 357.9 247.2C363.5 241.6 369.1 236.0 374.7 230.4C380.3 224.8 386.5 217.9 391.5 213.8C396.5 209.7 400.1 207.7 404.9 205.6C409.6 203.5 415.0 201.9 420.0 201.0C425.0 200.1 430.8 200.1 435.0 200.1C439.2 200.1 440.9 200.1 445.4 200.8C449.9 201.5 456.6 202.6 462.2 204.2C467.8 205.8 473.4 207.8 479.0 210.2C484.6 212.6 490.1 215.5 495.7 218.6C501.3 221.7 506.9 225.3 512.5 228.7C518.1 232.1 523.7 235.5 529.3 238.8C534.9 242.2 540.5 245.2 546.1 248.8C551.7 252.4 557.3 256.0 562.9 260.6C568.5 265.2 575.2 271.4 579.7 276.5C584.2 281.6 586.9 286.6 590.0 291.0C593.1 295.4 595.0 297.7 598.5 303.1C602.0 308.5 607.0 316.8 611.3 323.6C615.6 330.4 619.8 337.3 624.1 344.1C628.4 350.9 632.8 357.3 636.9 364.6C641.0 371.9 646.6 384.1 648.5 388.0" stroke="#22ec22" stroke-width="4.2" fill="none" stroke-dasharray="1.7 1.9"/>
<path d="M401.2 209.6C403.0 210.6 407.2 213.2 411.8 215.3C416.4 217.4 423.0 219.8 428.6 222.0C434.2 224.2 439.8 226.5 445.4 228.7C451.0 230.9 456.6 233.2 462.2 235.4C467.8 237.6 473.4 239.9 479.0 242.1C484.6 244.3 490.1 246.6 495.7 248.8C501.3 251.1 506.9 253.3 512.5 255.6C518.1 257.9 523.7 259.8 529.3 262.3C534.9 264.8 541.0 267.7 546.1 270.7C551.2 273.7 555.5 276.4 560.0 280.5C564.5 284.6 568.5 289.6 572.8 295.5C577.1 301.4 581.3 308.2 585.6 315.9C589.9 323.6 593.6 331.4 598.5 341.5C603.4 351.6 612.3 370.4 615.1 376.2" stroke="#10e8f8" stroke-width="2.6" fill="none" stroke-dasharray="1.3 1.1"/>
<path d="M405.5 157.0L431.0 164.2L456.8 164.5L462.9 167.8L487.6 176.0L508.2 184.0L530.0 192.0L550.6 197.8L571.2 206.3L581.5 209.1L591.8 214.2L602.0 221.5L612.4 233.8L616.7 237.8L624.5 244.6L630.3 251.4L642.0 251.4L649.7 266.0L657.5 278.6L665.3 288.4L667.3 296.0L666.3 304.0L663.4 306.8L659.5 300.0L653.6 288.4L647.8 276.7L642.0 266.0L630.3 264.0L624.5 255.3L616.7 245.6L607.0 239.0L600.0 234.5L591.8 229.7L581.5 223.5L571.2 220.4L550.6 213.2L530.0 207.0L508.2 203.8L487.6 194.5L462.9 183.2L452.6 181.2L430.0 180.1L405.3 171.5Z" fill="#fcf9cc" fill-opacity="0.92" stroke="#c0b650" stroke-width="1.4" stroke-linejoin="round"/>
<path d="M399.9 183.8C402.4 184.9 409.1 188.1 415.0 190.3C420.9 192.5 427.1 194.1 435.0 196.8C442.9 199.5 452.1 203.8 462.2 206.3C472.3 208.8 484.5 210.7 495.7 211.9C506.9 213.1 520.2 213.0 529.3 213.6C538.3 214.2 544.0 214.9 550.0 215.6C556.0 216.3 560.0 216.7 565.0 217.8C570.0 219.0 576.0 221.0 580.0 222.5C584.0 224.0 586.5 225.4 589.0 226.7C591.5 228.0 593.1 229.1 595.0 230.5C596.9 231.9 598.8 233.3 600.5 235.0C602.2 236.7 603.6 238.7 605.0 240.8C606.4 242.9 606.8 244.1 609.0 247.5C611.2 250.9 615.0 256.2 618.3 261.0C621.6 265.8 625.5 271.4 628.6 276.2C631.7 281.0 635.6 287.7 637.0 290.0" stroke="#ff1418" stroke-width="2.8" fill="none" stroke-dasharray="1.2 1.1"/>
<path d="M363.8 158.5H379.8M371.8 150V170.9M363.8 157.2v2.6M379.8 157.2v2.6M370.5 150h2.6M370.5 170.9h2.6M379 145.7H389.5M384.3 142V152.4M379 144.39999999999998v2.6M389.5 144.39999999999998v2.6M383.0 142h2.6M383.0 152.4h2.6M389.5 152.4H399.9M394.8 150V156.5M389.5 151.1v2.6M399.9 151.1v2.6M393.5 150h2.6M393.5 156.5h2.6M399.9 156H411.9M406 152V160M399.9 154.7v2.6M411.9 154.7v2.6M404.7 152h2.6M404.7 160h2.6M409 157.5H418M413 154V166M409 156.2v2.6M418 156.2v2.6M411.7 154h2.6M411.7 166h2.6M412 157.5H421M416.5 154V170M412 156.2v2.6M421 156.2v2.6M415.2 154h2.6M415.2 170h2.6M421.5 160.5H430.5M426 157V175M421.5 159.2v2.6M430.5 159.2v2.6M424.7 157h2.6M424.7 175h2.6M398 154.5H406M402 152V157M398 153.2v2.6M406 153.2v2.6M400.7 152h2.6M400.7 157h2.6M405.5 156H413.5M409.5 153.5V159M405.5 154.7v2.6M413.5 154.7v2.6M408.2 153.5h2.6M408.2 159h2.6M418 159.5H425M421.5 157V162M418 158.2v2.6M425 158.2v2.6M420.2 157h2.6M420.2 162h2.6M393 152H401M397 150V154M393 150.7v2.6M401 150.7v2.6M395.7 150h2.6M395.7 154h2.6" stroke="#4a2cb0" stroke-width="1.3" fill="none"/><path d="M368.6 155.7H375.0L371.8 161.3ZM381.1 142.89999999999998H387.5L384.3 148.5ZM391.6 149.6H398.0L394.8 155.20000000000002ZM402.8 153.2H409.2L406 158.8ZM409.8 154.7H416.2L413 160.3ZM413.3 154.7H419.7L416.5 160.3ZM422.8 157.7H429.2L426 163.3ZM398.8 151.7H405.2L402 157.3ZM406.3 153.2H412.7L409.5 158.8ZM418.3 156.7H424.7L421.5 162.3ZM393.8 149.2H400.2L397 154.8Z" fill="#4a2cb0"/>
<path d="M488.4 166.9H509.6M499 163.7V172.6M488.4 165.6v2.6M509.6 165.6v2.6M497.7 163.7h2.6M497.7 172.6h2.6M508.8 173.7H537.2M523.2 168.9V180.8M508.8 172.39999999999998v2.6M537.2 172.39999999999998v2.6M521.9000000000001 168.9h2.6M521.9000000000001 180.8h2.6M536 178.5H557.7M546.8 167.6V196.5M536 177.2v2.6M557.7 177.2v2.6M545.5 167.6h2.6M545.5 196.5h2.6" stroke="#1a1af0" stroke-width="1.5" fill="none"/><path d="M495.7 164.0H502.3L499 169.9ZM519.9000000000001 170.79999999999998H526.5L523.2 176.7ZM543.5 175.6H550.0999999999999L546.8 181.5Z" fill="#1a1af0"/>
<circle cx="432.2" cy="161.2" r="1.6" fill="#1a1af0"/><circle cx="438" cy="167.5" r="1.6" fill="#1a1af0"/><circle cx="441" cy="168.5" r="1.6" fill="#1a1af0"/><circle cx="444" cy="169" r="1.6" fill="#1a1af0"/><circle cx="448" cy="172.5" r="1.6" fill="#1a1af0"/><circle cx="448" cy="175.7" r="1.6" fill="#1a1af0"/><circle cx="457" cy="178.5" r="1.6" fill="#1a1af0"/><circle cx="478.8" cy="178.3" r="1.6" fill="#1a1af0"/><circle cx="485.2" cy="180.6" r="1.6" fill="#1a1af0"/><circle cx="478.4" cy="184.7" r="1.6" fill="#1a1af0"/><circle cx="465" cy="176" r="1.6" fill="#1a1af0"/><circle cx="470" cy="178" r="1.6" fill="#1a1af0"/><circle cx="492" cy="183" r="1.6" fill="#1a1af0"/><circle cx="510" cy="190" r="1.6" fill="#1a1af0"/><circle cx="520" cy="192.5" r="1.6" fill="#1a1af0"/>
<path d="M58.5 95.5C59.4 94.9 62.1 93.2 64.0 92.0C65.9 90.8 68.0 89.6 70.0 88.4C72.0 87.2 74.3 85.9 76.0 84.8C77.7 83.7 78.5 83.0 80.0 81.8C81.5 80.6 83.3 78.9 85.0 77.4C86.7 75.9 88.3 74.2 90.0 73.0C91.7 71.8 93.3 71.1 95.0 70.2C96.7 69.3 98.2 68.6 100.0 67.6C101.8 66.6 104.0 65.2 106.0 64.0C108.0 62.8 109.7 61.5 112.0 60.2C114.3 58.9 117.3 57.4 120.0 56.0C122.7 54.6 125.3 53.1 128.0 51.6C130.7 50.1 133.0 48.5 136.0 47.1C139.0 45.7 142.7 43.9 146.0 43.2C149.3 42.5 152.7 42.8 156.0 43.1C159.3 43.4 162.7 44.0 166.0 45.0C169.3 46.0 172.3 47.3 176.0 49.3C179.7 51.3 184.2 54.1 188.0 57.0C191.8 59.9 195.7 63.3 199.0 66.6C202.3 69.8 204.9 72.7 208.1 76.5C211.3 80.3 215.3 85.4 218.1 89.4C220.9 93.5 223.8 98.9 224.9 100.8" stroke="#000" stroke-width="4.4" fill="none" stroke-linecap="butt"/>
<g clip-path="url(#cp)"><path d="M400.1 164.0C403.1 164.5 412.0 165.9 418.0 167.0C424.0 168.1 429.7 169.0 436.2 170.3C442.7 171.6 449.9 173.1 456.8 175.0C463.7 176.9 470.5 179.2 477.4 181.5C484.3 183.8 491.1 186.4 498.0 188.7C504.9 190.9 513.2 193.4 518.5 195.0C523.8 196.6 524.6 196.5 530.0 198.0C535.4 199.5 543.7 201.8 550.6 204.0C557.5 206.2 565.0 208.5 571.2 211.0C577.4 213.5 583.5 216.5 587.6 219.0C591.7 221.5 593.9 223.8 596.0 225.8C598.1 227.8 598.5 228.9 600.0 231.0C601.5 233.1 603.2 235.8 605.0 238.5C606.8 241.2 608.1 243.4 610.6 247.0C613.1 250.6 616.6 255.3 619.9 260.0C623.2 264.7 626.9 270.0 630.3 275.0C633.6 280.0 637.1 285.0 640.0 290.0C642.9 295.0 645.6 300.8 647.5 305.0C649.4 309.2 650.6 312.2 651.6 315.0C652.6 317.8 653.4 320.8 653.7 322.0L655 345L656.4 392" stroke="#000" stroke-width="4.1" fill="none" stroke-linejoin="round"/></g>
<path d="M430.6 166.7H435.0M432.8 165.3V168.1M434.6 169.1H439.0M436.8 167.7V170.5M438.1 169.3H442.5M440.3 167.9V170.7M443.7 171.1H448.1M445.9 169.7V172.5M448.0 169.2H452.4M450.2 167.8V170.6M452.6 172.7H457.0M454.8 171.3V174.1M454.9 171.9H459.3M457.1 170.5V173.3M459.5 173.6H463.9M461.7 172.2V175.0M463.3 173.7H467.7M465.5 172.3V175.1M468.6 176.0H473.0M470.8 174.6V177.4M471.1 177.5H475.5M473.3 176.1V178.9M476.5 181.0H480.9M478.7 179.6V182.4M480.0 182.1H484.4M482.2 180.7V183.5M482.2 185.3H486.6M484.4 183.9V186.7M486.4 186.0H490.8M488.6 184.6V187.4M492.9 188.1H497.3M495.1 186.7V189.5M494.4 187.9H498.8M496.6 186.5V189.3M497.7 191.2H502.1M499.9 189.8V192.6M502.1 188.8H506.5M504.3 187.4V190.2M507.6 197.2H512.0M509.8 195.8V198.6M510.7 196.0H515.1M512.9 194.6V197.4M513.0 199.3H517.4M515.2 197.9V200.7M515.6 198.5H520.0M517.8 197.1V199.9M521.2 201.1H525.6M523.4 199.7V202.5M524.2 201.1H528.6M526.4 199.7V202.5M531.7 203.9H536.1M533.9 202.5V205.3M533.4 204.6H537.8M535.6 203.2V206.0M538.3 207.1H542.7M540.5 205.7V208.5M541.9 208.0H546.3M544.1 206.6V209.4M545.9 208.1H550.3M548.1 206.7V209.5M547.7 209.9H552.1M549.9 208.5V211.3M551.5 210.3H555.9M553.7 208.9V211.7M555.9 212.4H560.3M558.1 211.0V213.8M559.5 211.4H563.9M561.7 210.0V212.8M565.6 213.2H570.0M567.8 211.8V214.6M566.6 214.9H571.0M568.8 213.5V216.3M571.6 216.3H576.0M573.8 214.9V217.7M576.0 217.5H580.4M578.2 216.1V218.9M577.8 218.9H582.2M580.0 217.5V220.3M580.9 220.3H585.3M583.1 218.9V221.7M585.6 215.6H590.0M587.8 214.2V217.0M590.3 219.0H594.7M592.5 217.6V220.4M595.5 224.1H599.9M597.7 222.7V225.5M433 165H440M436.2 162.2V177M444 166H450M446.8 164.3V168.7M454 167H460M457.1 165V172M598 226.4H605M601.9 222V230M607 238.8H614M610.8 235V242M617 243.6H624M620.6 240V247M625.8 257.9H635.4M630.6 251.7V264M636.8 257.9H647.1M641.6 250.3V265.4M646.4 283.3H657.4M651.9 270.6V298.6M656.6 296.3H667.8M661.5 280.2V312.2" stroke="#000" stroke-width="1.1" fill="none"/>
<path d="M605 233.9L610.8 238.8L620.6 243.6L630.6 257.9L641.6 257.9L651.9 283.3L661.5 296.3L667.3 311.7" stroke="#000" stroke-width="0.8" fill="none"/>
<path d="M432.8 164.9L434.4 167.8H431.2Z" fill="#fcf9cc" stroke="#000" stroke-width="0.9"/><path d="M436.8 167.3L438.4 170.2H435.2Z" fill="#fcf9cc" stroke="#000" stroke-width="0.9"/><path d="M440.3 167.5L441.9 170.4H438.7Z" fill="#fcf9cc" stroke="#000" stroke-width="0.9"/><path d="M445.9 169.3L447.5 172.2H444.3Z" fill="#fcf9cc" stroke="#000" stroke-width="0.9"/><path d="M450.2 167.4L451.8 170.3H448.6Z" fill="#fcf9cc" stroke="#000" stroke-width="0.9"/><path d="M454.8 170.9L456.4 173.8H453.2Z" fill="#fcf9cc" stroke="#000" stroke-width="0.9"/><path d="M457.1 170.1L458.7 173.0H455.5Z" fill="#fcf9cc" stroke="#000" stroke-width="0.9"/><path d="M461.7 171.8L463.3 174.7H460.1Z" fill="#fcf9cc" stroke="#000" stroke-width="0.9"/><path d="M465.5 171.9L467.1 174.8H463.9Z" fill="#fcf9cc" stroke="#000" stroke-width="0.9"/><path d="M470.8 174.2L472.4 177.1H469.2Z" fill="#fcf9cc" stroke="#000" stroke-width="0.9"/><path d="M473.3 175.7L474.9 178.6H471.7Z" fill="#fcf9cc" stroke="#000" stroke-width="0.9"/><path d="M478.7 179.2L480.3 182.1H477.1Z" fill="#fcf9cc" stroke="#000" stroke-width="0.9"/><path d="M482.2 180.3L483.8 183.2H480.6Z" fill="#fcf9cc" stroke="#000" stroke-width="0.9"/><path d="M484.4 183.5L486.0 186.4H482.8Z" fill="#fcf9cc" stroke="#000" stroke-width="0.9"/><path d="M488.6 184.2L490.2 187.1H487.0Z" fill="#fcf9cc" stroke="#000" stroke-width="0.9"/><path d="M495.1 186.3L496.7 189.2H493.5Z" fill="#fcf9cc" stroke="#000" stroke-width="0.9"/><path d="M496.6 186.1L498.2 189.0H495.0Z" fill="#fcf9cc" stroke="#000" stroke-width="0.9"/><path d="M499.9 189.4L501.5 192.3H498.3Z" fill="#fcf9cc" stroke="#000" stroke-width="0.9"/><path d="M504.3 187.0L505.9 189.9H502.7Z" fill="#fcf9cc" stroke="#000" stroke-width="0.9"/><path d="M509.8 195.4L511.4 198.3H508.2Z" fill="#fcf9cc" stroke="#000" stroke-width="0.9"/><path d="M512.9 194.2L514.5 197.1H511.3Z" fill="#fcf9cc" stroke="#000" stroke-width="0.9"/><path d="M515.2 197.5L516.8 200.4H513.6Z" fill="#fcf9cc" stroke="#000" stroke-width="0.9"/><path d="M517.8 196.7L519.4 199.6H516.2Z" fill="#fcf9cc" stroke="#000" stroke-width="0.9"/><path d="M523.4 199.3L525.0 202.2H521.8Z" fill="#fcf9cc" stroke="#000" stroke-width="0.9"/><path d="M526.4 199.3L528.0 202.2H524.8Z" fill="#fcf9cc" stroke="#000" stroke-width="0.9"/><path d="M533.9 202.1L535.5 205.0H532.3Z" fill="#fcf9cc" stroke="#000" stroke-width="0.9"/><path d="M535.6 202.8L537.2 205.7H534.0Z" fill="#fcf9cc" stroke="#000" stroke-width="0.9"/><path d="M540.5 205.3L542.1 208.2H538.9Z" fill="#fcf9cc" stroke="#000" stroke-width="0.9"/><path d="M544.1 206.2L545.7 209.1H542.5Z" fill="#fcf9cc" stroke="#000" stroke-width="0.9"/><path d="M548.1 206.3L549.7 209.2H546.5Z" fill="#fcf9cc" stroke="#000" stroke-width="0.9"/><path d="M549.9 208.1L551.5 211.0H548.3Z" fill="#fcf9cc" stroke="#000" stroke-width="0.9"/><path d="M553.7 208.5L555.3 211.4H552.1Z" fill="#fcf9cc" stroke="#000" stroke-width="0.9"/><path d="M558.1 210.6L559.7 213.5H556.5Z" fill="#fcf9cc" stroke="#000" stroke-width="0.9"/><path d="M561.7 209.6L563.3 212.5H560.1Z" fill="#fcf9cc" stroke="#000" stroke-width="0.9"/><path d="M567.8 211.4L569.4 214.3H566.2Z" fill="#fcf9cc" stroke="#000" stroke-width="0.9"/><path d="M568.8 213.1L570.4 216.0H567.2Z" fill="#fcf9cc" stroke="#000" stroke-width="0.9"/><path d="M573.8 214.5L575.4 217.4H572.2Z" fill="#fcf9cc" stroke="#000" stroke-width="0.9"/><path d="M578.2 215.7L579.8 218.6H576.6Z" fill="#fcf9cc" stroke="#000" stroke-width="0.9"/><path d="M580.0 217.1L581.6 220.0H578.4Z" fill="#fcf9cc" stroke="#000" stroke-width="0.9"/><path d="M583.1 218.5L584.7 221.4H581.5Z" fill="#fcf9cc" stroke="#000" stroke-width="0.9"/><path d="M587.8 213.8L589.4 216.7H586.2Z" fill="#fcf9cc" stroke="#000" stroke-width="0.9"/><path d="M592.5 217.2L594.1 220.1H590.9Z" fill="#fcf9cc" stroke="#000" stroke-width="0.9"/><path d="M597.7 222.3L599.3 225.2H596.1Z" fill="#fcf9cc" stroke="#000" stroke-width="0.9"/><path d="M436.2 163.2L437.8 166.1H434.6Z" fill="#fcf9cc" stroke="#000" stroke-width="0.9"/><path d="M446.8 164.2L448.4 167.1H445.2Z" fill="#fcf9cc" stroke="#000" stroke-width="0.9"/><path d="M457.1 165.2L458.7 168.1H455.5Z" fill="#fcf9cc" stroke="#000" stroke-width="0.9"/><path d="M601.9 223.5L604.5 228.2H599.3Z" fill="#fcf9cc" stroke="#000" stroke-width="1"/><path d="M610.8 235.9L613.4 240.6H608.2Z" fill="#fcf9cc" stroke="#000" stroke-width="1"/><path d="M620.6 240.7L623.2 245.4H618.0Z" fill="#fcf9cc" stroke="#000" stroke-width="1"/><path d="M630.6 255.0L633.2 259.7H628.0Z" fill="#fcf9cc" stroke="#000" stroke-width="1"/><path d="M641.6 255.0L644.2 259.7H639.0Z" fill="#fcf9cc" stroke="#000" stroke-width="1"/><path d="M651.9 280.4L654.5 285.1H649.3Z" fill="#fcf9cc" stroke="#000" stroke-width="1"/><path d="M661.5 293.4L664.1 298.1H658.9Z" fill="#fcf9cc" stroke="#000" stroke-width="1"/>
<path d="M59.00 388.85V377.85M59.00 15.7V26.70M79.53 388.85V383.15M79.53 15.7V21.40M91.54 388.85V383.15M91.54 15.7V21.40M100.06 388.85V383.15M100.06 15.7V21.40M106.67 388.85V383.15M106.67 15.7V21.40M112.07 388.85V383.15M112.07 15.7V21.40M116.64 388.85V383.15M116.64 15.7V21.40M120.59 388.85V383.15M120.59 15.7V21.40M124.08 388.85V383.15M124.08 15.7V21.40M127.20 388.85V377.85M127.20 15.7V26.70M147.73 388.85V383.15M147.73 15.7V21.40M159.74 388.85V383.15M159.74 15.7V21.40M168.26 388.85V383.15M168.26 15.7V21.40M174.87 388.85V383.15M174.87 15.7V21.40M180.27 388.85V383.15M180.27 15.7V21.40M184.84 388.85V383.15M184.84 15.7V21.40M188.79 388.85V383.15M188.79 15.7V21.40M192.28 388.85V383.15M192.28 15.7V21.40M195.40 388.85V377.85M195.40 15.7V26.70M215.93 388.85V383.15M215.93 15.7V21.40M227.94 388.85V383.15M227.94 15.7V21.40M236.46 388.85V383.15M236.46 15.7V21.40M243.07 388.85V383.15M243.07 15.7V21.40M248.47 388.85V383.15M248.47 15.7V21.40M253.04 388.85V383.15M253.04 15.7V21.40M256.99 388.85V383.15M256.99 15.7V21.40M260.48 388.85V383.15M260.48 15.7V21.40M263.60 388.85V377.85M263.60 15.7V26.70M284.13 388.85V383.15M284.13 15.7V21.40M296.14 388.85V383.15M296.14 15.7V21.40M304.66 388.85V383.15M304.66 15.7V21.40M311.27 388.85V383.15M311.27 15.7V21.40M316.67 388.85V383.15M316.67 15.7V21.40M321.24 388.85V383.15M321.24 15.7V21.40M325.19 388.85V383.15M325.19 15.7V21.40M328.68 388.85V383.15M328.68 15.7V21.40M331.80 388.85V377.85M331.80 15.7V26.70M352.33 388.85V383.15M352.33 15.7V21.40M364.34 388.85V383.15M364.34 15.7V21.40M372.86 388.85V383.15M372.86 15.7V21.40M379.47 388.85V383.15M379.47 15.7V21.40M384.87 388.85V383.15M384.87 15.7V21.40M389.44 388.85V383.15M389.44 15.7V21.40M393.39 388.85V383.15M393.39 15.7V21.40M396.88 388.85V383.15M396.88 15.7V21.40M400.00 388.85V377.85M400.00 15.7V26.70M420.53 388.85V383.15M420.53 15.7V21.40M432.54 388.85V383.15M432.54 15.7V21.40M441.06 388.85V383.15M441.06 15.7V21.40M447.67 388.85V383.15M447.67 15.7V21.40M453.07 388.85V383.15M453.07 15.7V21.40M457.64 388.85V383.15M457.64 15.7V21.40M461.59 388.85V383.15M461.59 15.7V21.40M465.08 388.85V383.15M465.08 15.7V21.40M468.20 388.85V377.85M468.20 15.7V26.70M488.73 388.85V383.15M488.73 15.7V21.40M500.74 388.85V383.15M500.74 15.7V21.40M509.26 388.85V383.15M509.26 15.7V21.40M515.87 388.85V383.15M515.87 15.7V21.40M521.27 388.85V383.15M521.27 15.7V21.40M525.84 388.85V383.15M525.84 15.7V21.40M529.79 388.85V383.15M529.79 15.7V21.40M533.28 388.85V383.15M533.28 15.7V21.40M536.40 388.85V377.85M536.40 15.7V26.70M556.93 388.85V383.15M556.93 15.7V21.40M568.94 388.85V383.15M568.94 15.7V21.40M577.46 388.85V383.15M577.46 15.7V21.40M584.07 388.85V383.15M584.07 15.7V21.40M589.47 388.85V383.15M589.47 15.7V21.40M594.04 388.85V383.15M594.04 15.7V21.40M597.99 388.85V383.15M597.99 15.7V21.40M601.48 388.85V383.15M601.48 15.7V21.40M604.60 388.85V377.85M604.60 15.7V26.70M625.13 388.85V383.15M625.13 15.7V21.40M637.14 388.85V383.15M637.14 15.7V21.40M645.66 388.85V383.15M645.66 15.7V21.40M652.27 388.85V383.15M652.27 15.7V21.40M657.67 388.85V383.15M657.67 15.7V21.40M662.24 388.85V383.15M662.24 15.7V21.40M666.19 388.85V383.15M666.19 15.7V21.40M669.68 388.85V383.15M669.68 15.7V21.40M672.80 388.85V377.85M672.80 15.7V26.70M59.0 388.80H77.00M673.0 388.80H655.00M59.0 366.51H68.00M673.0 366.51H664.00M59.0 353.47H68.00M673.0 353.47H664.00M59.0 344.22H68.00M673.0 344.22H664.00M59.0 337.05H68.00M673.0 337.05H664.00M59.0 331.19H68.00M673.0 331.19H664.00M59.0 326.23H68.00M673.0 326.23H664.00M59.0 321.94H68.00M673.0 321.94H664.00M59.0 318.15H68.00M673.0 318.15H664.00M59.0 314.76H77.00M673.0 314.76H655.00M59.0 292.47H68.00M673.0 292.47H664.00M59.0 279.43H68.00M673.0 279.43H664.00M59.0 270.18H68.00M673.0 270.18H664.00M59.0 263.01H68.00M673.0 263.01H664.00M59.0 257.15H68.00M673.0 257.15H664.00M59.0 252.19H68.00M673.0 252.19H664.00M59.0 247.90H68.00M673.0 247.90H664.00M59.0 244.11H68.00M673.0 244.11H664.00M59.0 240.72H77.00M673.0 240.72H655.00M59.0 218.43H68.00M673.0 218.43H664.00M59.0 205.39H68.00M673.0 205.39H664.00M59.0 196.14H68.00M673.0 196.14H664.00M59.0 188.97H68.00M673.0 188.97H664.00M59.0 183.11H68.00M673.0 183.11H664.00M59.0 178.15H68.00M673.0 178.15H664.00M59.0 173.86H68.00M673.0 173.86H664.00M59.0 170.07H68.00M673.0 170.07H664.00M59.0 166.68H77.00M673.0 166.68H655.00M59.0 144.39H68.00M673.0 144.39H664.00M59.0 131.35H68.00M673.0 131.35H664.00M59.0 122.10H68.00M673.0 122.10H664.00M59.0 114.93H68.00M673.0 114.93H664.00M59.0 109.07H68.00M673.0 109.07H664.00M59.0 104.11H68.00M673.0 104.11H664.00M59.0 99.82H68.00M673.0 99.82H664.00M59.0 96.03H68.00M673.0 96.03H664.00M59.0 92.64H77.00M673.0 92.64H655.00M59.0 70.35H68.00M673.0 70.35H664.00M59.0 57.31H68.00M673.0 57.31H664.00M59.0 48.06H68.00M673.0 48.06H664.00M59.0 40.89H68.00M673.0 40.89H664.00M59.0 35.03H68.00M673.0 35.03H664.00M59.0 30.07H68.00M673.0 30.07H664.00M59.0 25.78H68.00M673.0 25.78H664.00M59.0 21.99H68.00M673.0 21.99H664.00M59.0 18.60H77.00M673.0 18.60H655.00" stroke="#222" stroke-width="1.5" fill="none"/>
<rect x="59.0" y="15.7" width="614.0" height="373.15000000000003" stroke="#111" stroke-width="1.6" fill="none"/>
<text x="59.0" y="410.6" text-anchor="middle" class="t">10<tspan class="s" dy="-7.2">-3</tspan></text>
<text x="127.2" y="410.6" text-anchor="middle" class="t">10<tspan class="s" dy="-7.2">-2</tspan></text>
<text x="195.4" y="410.6" text-anchor="middle" class="t">10<tspan class="s" dy="-7.2">-1</tspan></text>
<text x="263.6" y="410.6" text-anchor="middle" class="t">1</text>
<text x="331.8" y="410.6" text-anchor="middle" class="t">10</text>
<text x="400.0" y="410.6" text-anchor="middle" class="t">10<tspan class="s" dy="-7.2">2</tspan></text>
<text x="468.2" y="410.6" text-anchor="middle" class="t">10<tspan class="s" dy="-7.2">3</tspan></text>
<text x="536.4" y="410.6" text-anchor="middle" class="t">10<tspan class="s" dy="-7.2">4</tspan></text>
<text x="604.6" y="410.6" text-anchor="middle" class="t">10<tspan class="s" dy="-7.2">5</tspan></text>
<text x="672.8" y="410.6" text-anchor="middle" class="t">10<tspan class="s" dy="-7.2">6</tspan></text>
<text x="52.4" y="396.1" text-anchor="end" class="t">10<tspan class="s" dy="-7.2">-6</tspan></text>
<text x="52.4" y="322.1" text-anchor="end" class="t">10<tspan class="s" dy="-7.2">-5</tspan></text>
<text x="52.4" y="248.0" text-anchor="end" class="t">10<tspan class="s" dy="-7.2">-4</tspan></text>
<text x="52.4" y="174.0" text-anchor="end" class="t">10<tspan class="s" dy="-7.2">-3</tspan></text>
<text x="52.4" y="99.9" text-anchor="end" class="t">10<tspan class="s" dy="-7.2">-2</tspan></text>
<text x="52.4" y="25.9" text-anchor="end" class="t">10<tspan class="s" dy="-7.2">-1</tspan></text>
<text x="60.3" y="9.7" class="c" style="font-size:13.5px">Adapted from Ackermann et al. (2015)</text>
<text x="265.8" y="59" textLength="127.8" lengthAdjust="spacingAndGlyphs" style="font-size:24.2px;font-weight:bold;fill:#7a0c0c;stroke-width:0">ASTROMEV</text>
<text x="170.5" y="129.4" text-anchor="middle" class="lbl" fill="#2020e8" stroke="#2020e8">Seyfert galaxies</text>
<text x="170.5" y="147.6" text-anchor="middle" class="lbl" fill="#2020e8" stroke="#2020e8">(Gilli 2007)</text>
<text x="179" y="200.9" text-anchor="middle" class="lbl" fill="#f01418" stroke="#f01418">All blazars</text>
<text x="179" y="218.9" text-anchor="middle" class="lbl" fill="#f01418" stroke="#f01418">(Giommi &amp;</text>
<text x="179" y="236.6" text-anchor="middle" class="lbl" fill="#f01418" stroke="#f01418">Padovani 2015)</text>
<text x="76.5" y="278.2" class="lbl" fill="#1fbf1f" stroke="#1fbf1f">Star-forming galaxies</text>
<text x="76.5" y="294.4" class="lbl" fill="#1fbf1f" stroke="#1fbf1f">(Lacki et al. 2014)</text>
<text x="457.8" y="264.3" text-anchor="middle" class="lbl" fill="#22c0c8" stroke="#22c0c8">Radio galaxies</text>
<text x="457.8" y="282.7" text-anchor="middle" class="lbl" fill="#22c0c8" stroke="#22c0c8">(Inoue 2011)</text>
<path d="M87 362.3H136.4" stroke="#b4589e" stroke-width="1.2" fill="none"/>
<path d="M111.5 359.3L113.8 362.3L111.5 365.3L109.2 362.3Z" fill="#fff" stroke="#b4589e" stroke-width="1.2"/>
<text x="146.5" y="365.8" class="c" style="font-size:10.9px">COMPTEL - Weidenspointner et al. 2000</text>
<text x="365" y="432.8" text-anchor="middle" class="c" style="font-size:15.9px">Energy [MeV]</text>
<text transform="translate(16.8 199.5) rotate(-90)" text-anchor="middle" class="c" style="font-size:16px">E<tspan dy="-7" style="font-size:9.6px">2</tspan><tspan dy="7"> dN/dE [MeV cm</tspan><tspan dy="-7" style="font-size:9.6px">-2</tspan><tspan dy="7"> s</tspan><tspan dy="-7" style="font-size:9.6px">-1</tspan><tspan dy="7"> sr</tspan><tspan dy="-7" style="font-size:9.6px">-1</tspan><tspan dy="7">]</tspan></text>
</svg>
</body></html>
